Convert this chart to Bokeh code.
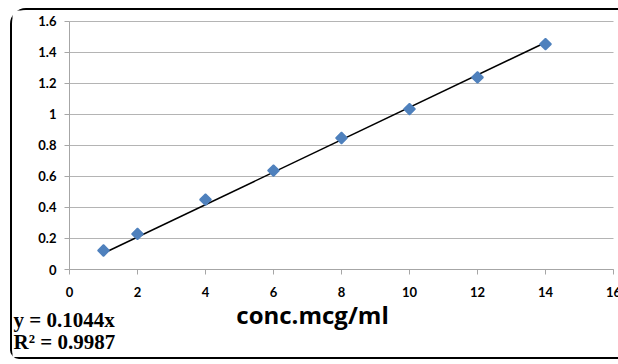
import math
from bokeh.plotting import figure
from bokeh.models import Range1d, FixedTicker, Label
from bokeh.embed import file_html
from bokeh.resources import INLINE

conc = [1, 2, 4, 6, 8, 10, 12, 14]
absorbance = [0.122, 0.229, 0.450, 0.637, 0.847, 1.033, 1.237, 1.451]
slope = 0.1044
trend_x = [1, 14]
trend_y = [slope * v for v in trend_x]
x_ticks = [0, 2, 4, 6, 8, 10, 12, 14, 16]
y_ticks = [0, 0.2, 0.4, 0.6, 0.8, 1.0, 1.2, 1.4, 1.6]
y_labels = ["0", "0.2", "0.4", "0.6", "0.8", "1", "1.2", "1.4", "1.6"]
eq_text = "y = 0.1044x"
r2_text = "R² = 0.9987"
x_title = "conc.mcg/ml"

# layout geometry (page pixels); the CSS border sits outside the canvas
W, H, BORDER = 616, 351, 2
FL, FT = 12, 10              # canvas/frame left/top on the page
FR, FB = FL + W, FT + H
PX_X0, PX_X1 = 69, 613       # where x=0 and x=16 land
PX_Y0, PX_Y1 = 269, 20.5     # where y=0 and y=1.6 land
xs = (PX_X1 - PX_X0) / (x_ticks[-1] - x_ticks[0])
ys = (PX_Y0 - PX_Y1) / (y_ticks[-1] - y_ticks[0])
x_range = Range1d(x_ticks[0] - (PX_X0 - FL) / xs, x_ticks[-1] + (FR - PX_X1) / xs)
y_range = Range1d(y_ticks[0] - (FB - PX_Y0) / ys, y_ticks[-1] + (PX_Y1 - FT) / ys)

p = figure(width=W, height=H, output_backend="svg", toolbar_location=None,
           x_range=x_range, y_range=y_range,
           min_border_left=0, min_border_right=0, min_border_top=0, min_border_bottom=0)
p.outline_line_color = None
p.styles = {"border": f"{BORDER}px solid black", "border-radius": "16px 0 0 9px",
            "margin": "8px 0 0 10px"}

for ax in (p.xaxis, p.yaxis):
    ax.axis_line_color = "#a6a6a6"
    ax.major_tick_line_color = "#a6a6a6"
    ax.minor_tick_line_color = None
    ax.major_tick_out = 5
    ax.major_tick_in = 0
    ax.major_label_text_font = "Lato"
    ax.major_label_text_font_style = "bold"
    ax.major_label_text_font_size = "13px"
    ax.major_label_text_color = "black"

p.xaxis.fixed_location = y_ticks[0]
p.yaxis.fixed_location = x_ticks[0]
p.xaxis.bounds = (x_ticks[0], x_ticks[-1])
p.yaxis.bounds = (y_ticks[0], y_ticks[-1])
p.xaxis.ticker = FixedTicker(ticks=x_ticks)
p.yaxis.ticker = FixedTicker(ticks=y_ticks)
p.yaxis.major_label_overrides = {t: l for t, l in zip(y_ticks, y_labels)}
p.xaxis.major_label_standoff = 12
p.yaxis.major_label_standoff = 8

p.xgrid.grid_line_color = None
p.ygrid.grid_line_color = "#b4b4b4"
p.ygrid.ticker = FixedTicker(ticks=y_ticks)
p.ygrid.bounds = (y_ticks[0], y_ticks[-1])
p.ygrid.cross_bounds = (x_ticks[0], x_ticks[-1])

p.line(trend_x, trend_y, line_color="black", line_width=1.5)
p.scatter(conc, absorbance, marker="square", angle=math.pi / 4, size=8,
          fill_color="#4f81bd", line_color="#4f81bd", line_width=1.5)

p.add_layout(Label(x=312 - FL, y=FB - 314, x_units="screen", y_units="screen", text=x_title,
                   text_font="Open Sans", text_font_style="bold", text_font_size="24px",
                   text_align="center", text_baseline="alphabetic", text_color="black"))
p.add_layout(Label(x=13 - FL, y=FB - 319, x_units="screen", y_units="screen", text=eq_text,
                   text_font="Liberation Serif", text_font_style="bold", text_font_size="21px",
                   text_baseline="alphabetic", text_color="black"))
p.add_layout(Label(x=13 - FL, y=FB - 341, x_units="screen", y_units="screen", text=r2_text,
                   text_font="Liberation Serif", text_font_style="bold", text_font_size="21px",
                   text_baseline="alphabetic", text_color="black"))

open("out.html", "w").write(file_html(p, INLINE))
